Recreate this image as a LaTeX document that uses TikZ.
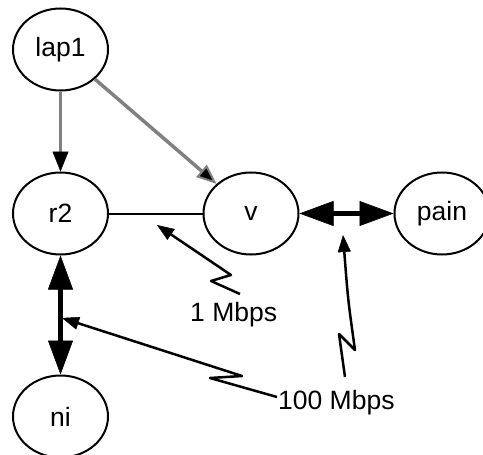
\documentclass[tikz,border=0pt]{standalone}
\usepackage{fontspec}
\setmainfont{Liberation Sans}
\usetikzlibrary{shapes.geometric,arrows.meta}
\begin{document}
\begin{tikzpicture}[x=1pt,y=-1pt,
  host/.style={ellipse,draw,line width=2pt,minimum width=95pt,minimum height=82pt,inner sep=0pt,font=\fontsize{26.5}{30}\selectfont},
  lbl/.style={inner sep=0pt,font=\fontsize{26.5}{30}\selectfont},
  grayedge/.style={draw=gray,line width=3.5pt},
  fat/.style={line width=5pt,{Triangle[length=34pt,width=25pt,line width=0.5pt]}-{Triangle[length=34pt,width=25pt,line width=0.5pt]}},
  thin/.style={line width=2pt},
  ann/.style={line width=2.5pt,line join=round,-{Triangle[length=17pt,width=13pt,line width=0.5pt]}}]
\useasboundingbox (0,0) rectangle (483,455);
\node[host] (lap1) at (60.5,49.5) {lap1};
\node[host] (r2) at (60.5,213.5) {r2};
\node[host] (v) at (251,213.5) {v};
\node[host] (pain) at (442,213.5) {pain};
\node[host] (ni) at (60.5,416.5) {ni};
\draw[grayedge,-{Triangle[length=20pt,width=16pt,line width=0.5pt,fill=black,color=black]}] (lap1) -- (r2);
\draw[grayedge,-{Triangle[length=20pt,width=16pt,line width=2pt,fill=black]}] (lap1) -- (v);
\draw[thin] (r2) -- (v);
\draw[fat] (v) -- (pain);
\draw[fat] (r2) -- (ni);
\node[lbl,anchor=base west] (m1) at (190,321) {1 Mbps};
\node[lbl,anchor=base west] (m100) at (278,409) {100 Mbps};
\coordinate (a1) at (240,294);
\coordinate (a2) at (211,281);
\coordinate (a3) at (231,275);
\coordinate (t1) at (157,225);
\draw[ann] (a1) -- (a2) -- (a3) -- (t1);
\coordinate (b1) at (277,397);
\coordinate (b2) at (210,378);
\coordinate (b3) at (242,376);
\coordinate (t2) at (62,318);
\draw[ann] (b1) -- (b2) -- (b3) -- (t2);
\coordinate (c1) at (345,377);
\coordinate (c2) at (339,334);
\coordinate (c3) at (355,350);
\coordinate (t3) at (343,235);
\draw[ann] (c1) .. controls (342,355) .. (c2) -- (c3) .. controls (348,300) .. (t3);
\end{tikzpicture}
\end{document}
